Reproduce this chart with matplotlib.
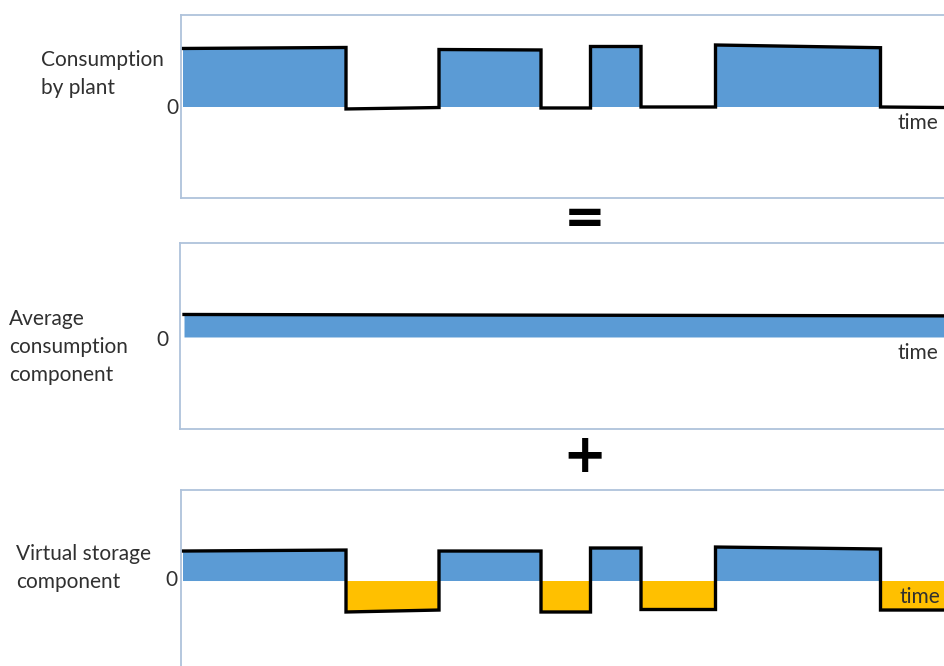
import matplotlib
matplotlib.use("Agg")
import matplotlib.pyplot as plt
import numpy as np

# ---------------- data ----------------
# segment boundaries along the time axis (arbitrary time units)
time_edges = [0, 163, 256, 358, 407.5, 458, 532.5, 697.5, 820]

# consumption by plant: (start, end) value of each segment
plant_start = [1.009, -0.034, 0.991, -0.017, 1.043, 0.000, 1.069, 0.000]
plant_end   = [1.026, -0.009, 0.983, -0.017, 1.043, 0.000, 1.022, -0.017]

# average consumption component
avg_start = 0.388
avg_end = 0.362

# virtual storage component: (start, end) value of each segment
vs_start = [0.517, -0.534, 0.517, -0.534, 0.569, -0.491, 0.586, -0.500]
vs_end   = [0.534, -0.500, 0.517, -0.534, 0.569, -0.491, 0.552, -0.500]

panel_labels = ["Consumption\nby plant", "Average\nconsumption\ncomponent",
                "Virtual storage\ncomponent"]
zero_label = "0"
time_label = "time"

# ---------------- style ----------------
BLUE = "#5B9BD5"
YELLOW = "#FFC000"
BORDER = "#AFC3DB"
W, H = 944, 666
FONT = "Lato"

fig = plt.figure(figsize=(W / 100, H / 100), dpi=100)
fig.patch.set_facecolor("white")


def px_axes(left, top, right, bottom):
    return fig.add_axes([left / W, 1 - bottom / H, (right - left) / W, (bottom - top) / H])


def style(ax, ylim):
    ax.set_xlim(-2, 817)
    ax.set_ylim(*ylim)
    ax.set_xticks([])
    ax.set_yticks([])
    for s in ax.spines.values():
        s.set_color(BORDER)
        s.set_linewidth(1.3)


def step_xy(edges, starts, ends):
    xs, ys = [], []
    for i in range(len(starts)):
        xs += [edges[i], edges[i + 1]]
        ys += [starts[i], ends[i]]
    return np.array(xs, float), np.array(ys, float)


LW = 2.4

# panel 1
ax1 = px_axes(181, 15, 1000, 198)
style(ax1, (-1.569, 1.586))
x, y = step_xy(time_edges, plant_start, plant_end)
ax1.fill_between(x, y, 0, where=y > 0, color=BLUE, lw=0, interpolate=True)
ax1.plot(x, y, color="black", lw=LW, solid_joinstyle="miter")

# panel 2
ax2 = px_axes(180, 243, 1000, 429)
style(ax2, (-1.586, 1.62))
xa = np.array([2, time_edges[-1]])
ya = np.array([avg_start, avg_end])
ax2.fill_between(xa, ya, 0, color=BLUE, lw=0)
ax2.plot(xa, ya, color="black", lw=LW)

# panel 3
ax3 = px_axes(181, 490, 1000, 675)
style(ax3, (-1.62, 1.569))
x, y = step_xy(time_edges, vs_start, vs_end)
ax3.fill_between(x, y, 0, where=y > 0, color=BLUE, lw=0, interpolate=True)
ax3.fill_between(x, y, 0, where=y < 0, color=YELLOW, lw=0, interpolate=True)
ax3.plot(x, y, color="black", lw=LW, solid_joinstyle="miter")


def ftext(xp, yp, s, **kw):
    kw.setdefault("family", FONT)
    kw.setdefault("color", "#303030")
    fig.text(xp / W, 1 - yp / H, s, **kw)


FS = 15
LS = 1.52
ftext(41, 74, panel_labels[0], ha="left", va="center", fontsize=FS, linespacing=LS)
ftext(9, 347, panel_labels[1], ha="left", va="center", fontsize=FS, linespacing=LS)
ftext(16, 568, panel_labels[2], ha="left", va="center", fontsize=FS, linespacing=LS)

ftext(172, 108, zero_label, ha="center", va="center", fontsize=FS)
ftext(162, 340, zero_label, ha="center", va="center", fontsize=FS)
ftext(171, 580, zero_label, ha="center", va="center", fontsize=FS)

ftext(897, 123, time_label, ha="left", va="center", fontsize=FS)
ftext(897, 353, time_label, ha="left", va="center", fontsize=FS)
ftext(899, 597, time_label, ha="left", va="center", fontsize=FS)

ftext(585, 219, "=", ha="center", va="center", fontsize=36, family="DejaVu Sans",
      color="black", fontweight="bold")
ftext(585, 457, "+", ha="center", va="center", fontsize=38, family="DejaVu Sans",
      color="black", fontweight="semibold")

fig.savefig("out.png", dpi=100)
